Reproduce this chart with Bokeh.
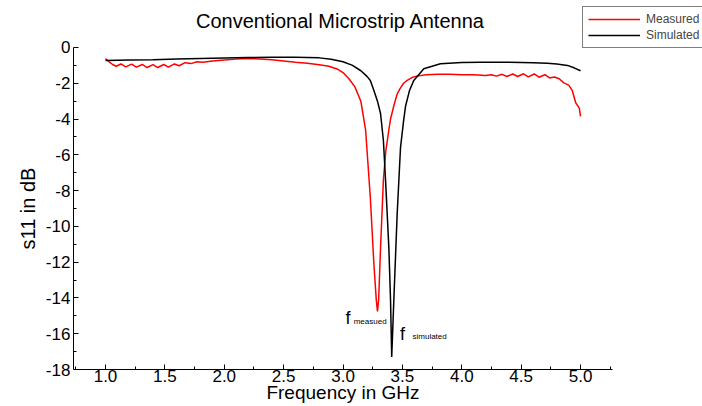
from bokeh.plotting import figure
from bokeh.models import (Range1d, FixedTicker, Legend, LegendItem, ColumnDataSource,
                          PrintfTickFormatter, Label)
from bokeh.core.properties import value
from bokeh.embed import file_html
from bokeh.resources import INLINE

# ---------------- data ----------------
meas_f = [1.00, 1.03, 1.06, 1.09, 1.13, 1.17, 1.22, 1.26, 1.31, 1.35, 1.40, 1.44, 1.49,
          1.53, 1.58, 1.62, 1.67, 1.72, 1.77, 1.82, 1.90, 2.00, 2.10, 2.20, 2.30, 2.40,
          2.50, 2.60, 2.70, 2.80, 2.88, 2.95, 3.00, 3.05, 3.10, 3.15, 3.19, 3.23, 3.26,
          3.28, 3.29, 3.30, 3.316, 3.34, 3.36, 3.386, 3.40, 3.43, 3.456, 3.48, 3.51,
          3.54, 3.58, 3.62, 3.70, 3.80, 3.90, 4.00, 4.10, 4.20, 4.25, 4.29, 4.34, 4.38,
          4.43, 4.47, 4.52, 4.56, 4.61, 4.65, 4.70, 4.74, 4.78, 4.82, 4.86, 4.90, 4.93,
          4.96, 4.99, 5.00]
meas_db = [-0.62, -0.80, -0.95, -1.05, -0.92, -1.08, -0.93, -1.10, -0.95, -1.12, -0.96,
           -1.12, -0.95, -1.10, -0.92, -1.02, -0.85, -0.90, -0.80, -0.82, -0.75, -0.70,
           -0.65, -0.62, -0.64, -0.68, -0.75, -0.82, -0.88, -0.97, -1.05, -1.20, -1.40,
           -1.75, -2.20, -3.00, -4.60, -8.40, -12.1, -14.1, -14.75, -14.1, -11.2, -7.4,
           -5.8, -4.6, -4.0, -3.2, -2.6, -2.3, -2.0, -1.84, -1.68, -1.60, -1.52, -1.50,
           -1.50, -1.52, -1.52, -1.56, -1.52, -1.60, -1.50, -1.62, -1.48, -1.62, -1.47,
           -1.64, -1.48, -1.66, -1.52, -1.70, -1.65, -1.75, -1.98, -2.10, -2.40, -3.10,
           -3.40, -3.85]

sim_f = [1.00, 1.20, 1.40, 1.60, 1.80, 2.00, 2.20, 2.40, 2.60, 2.80, 2.90, 3.00, 3.08,
         3.15, 3.20, 3.23, 3.26, 3.29, 3.316, 3.34, 3.358, 3.386, 3.40, 3.41, 3.428,
         3.456, 3.484, 3.51, 3.526, 3.56, 3.596, 3.68, 3.82, 4.00, 4.16, 4.40, 4.60,
         4.72, 4.80, 4.89, 4.95, 5.00]
sim_db = [-0.72, -0.70, -0.68, -0.65, -0.62, -0.59, -0.56, -0.54, -0.54, -0.58, -0.66,
          -0.80, -1.00, -1.30, -1.60, -1.84, -2.40, -3.00, -3.69, -5.20, -7.40, -11.2,
          -14.1, -17.3, -14.1, -9.3, -5.6, -4.1, -3.3, -2.4, -1.84, -1.19, -0.91, -0.84,
          -0.82, -0.83, -0.85, -0.88, -0.92, -1.00, -1.15, -1.30]

x_ticks = [1.0, 1.5, 2.0, 2.5, 3.0, 3.5, 4.0, 4.5, 5.0]
y_ticks = [0, -2, -4, -6, -8, -10, -12, -14, -16, -18]
x_axis_span = (0.73, 5.27)
y_axis_span = (-18, 0)
series_names = ["Measured", "Simulated"]

FONT = "Liberation Sans"
W, H = 702, 406

# frame covers the whole canvas; axes are pinned at fixed data locations
p = figure(width=W, height=H, output_backend="svg", toolbar_location=None, title=None,
           x_range=Range1d(0.1158, 6.027), y_range=Range1d(-20.068, 2.627),
           min_border_left=0, min_border_right=0, min_border_top=0, min_border_bottom=0)

p.outline_line_color = None
p.xgrid.visible = False
p.ygrid.visible = False

for ax in (p.xaxis[0], p.yaxis[0]):
    ax.axis_line_color = "black"
    ax.major_tick_in = 5
    ax.major_tick_out = 0
    ax.minor_tick_in = 3
    ax.minor_tick_out = 0
    ax.major_tick_line_color = "black"
    ax.minor_tick_line_color = "black"
    ax.major_label_text_font = FONT
    ax.major_label_text_font_size = "17px"
    ax.major_label_text_color = "black"
    ax.axis_label_text_font = FONT
    ax.axis_label_text_font_size = "20px"
    ax.axis_label_text_font_style = "normal"
    ax.axis_label_text_color = "black"

minor_x = [0.75 + 0.25 * i for i in range(19)]
p.xaxis.ticker = FixedTicker(ticks=x_ticks, minor_ticks=minor_x)
p.xaxis.formatter = PrintfTickFormatter(format="%.1f")
p.xaxis.fixed_location = y_axis_span[0]
p.xaxis.bounds = x_axis_span
p.xaxis.axis_label = "Frequency in GHz"
p.xaxis.axis_label_text_font_size = "19px"
p.xaxis.major_label_standoff = 0
p.xaxis.axis_label_standoff = -3

minor_y = [-(2 * i + 1) for i in range(9)]
p.yaxis.ticker = FixedTicker(ticks=y_ticks, minor_ticks=minor_y)
p.yaxis.formatter = PrintfTickFormatter(format="%d")
p.yaxis.fixed_location = x_axis_span[0]
p.yaxis.bounds = y_axis_span
p.yaxis.axis_label = "s11 in dB"
p.yaxis.major_label_standoff = 3
p.yaxis.axis_label_standoff = 4

# title
p.add_layout(Label(x=340, y=H - 20, x_units="screen", y_units="screen",
                   text="Conventional Microstrip Antenna", text_font=FONT,
                   text_font_size="20px", text_align="center", text_baseline="middle",
                   text_color="black"))

r_meas = p.line(meas_f, meas_db, line_color="#FF0000", line_width=1.5)
r_sim = p.line(sim_f, sim_db, line_color="black", line_width=1.5)

# annotations f_measued / f_simulated
ann_src = ColumnDataSource(dict(x=[3.02, 3.48], y=[-15.1, -16.0], t=["f", "f"]))
p.text(x="x", y="y", text="t", source=ann_src, text_font=value(FONT),
       text_font_size="18px", text_baseline="middle", text_align="left", text_color="black")
sub_src = ColumnDataSource(dict(x=[3.09, 3.585], y=[-15.3, -16.15], t=["measued", "simulated"]))
p.text(x="x", y="y", text="t", source=sub_src, text_font=value(FONT),
       text_font_size="8px", text_baseline="middle", text_align="left", text_color="black")

LEG_H = 40
legend = Legend(items=[LegendItem(label=series_names[0], renderers=[r_meas]),
                       LegendItem(label=series_names[1], renderers=[r_sim])],
                location=(582, H - 8 - LEG_H), orientation="vertical",
                border_line_color="black", border_line_width=1,
                background_fill_color="white", background_fill_alpha=1,
                label_text_font=FONT, label_text_font_size="12px",
                glyph_width=52, glyph_height=14, label_height=14, label_standoff=6,
                spacing=2, padding=5, margin=0)
p.add_layout(legend, "center")

open("out.html", "w").write(file_html(p, INLINE))
